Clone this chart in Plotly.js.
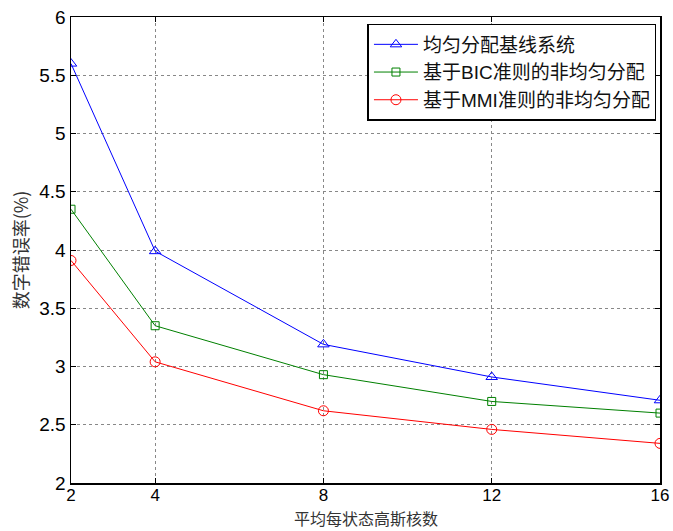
<!DOCTYPE html>
<html>
<head>
<meta charset="utf-8">
<script src="https://cdn.plot.ly/plotly-3.0.1.min.js"></script>
<style>html,body{margin:0;padding:0;background:#fff;}#chart{width:673px;height:531px;}</style>
</head>
<body>
<div id="chart"></div>
<script>
const xValues = [2, 4, 8, 12, 16];
const xTickLabels = ['2', '4', '8', '12', '16'];
const seriesNames = ['均匀分配基线系统', '基于BIC准则的非均匀分配', '基于MMI准则的非均匀分配'];
const baseline = [5.6, 3.99, 3.19, 2.91, 2.71];
const bicValues = [4.35, 3.35, 2.93, 2.70, 2.60];
const mmiValues = [3.91, 3.04, 2.62, 2.46, 2.34];
const yTicks = [2, 2.5, 3, 3.5, 4, 4.5, 5, 5.5, 6];
const xTitle = '平均每状态高斯核数';
const yTitle = '数字错误率(%)';

const FONT = 'Liberation Sans, Arial, Noto Sans CJK SC, sans-serif';
const CJK = 'Noto Sans CJK SC, sans-serif';
const colors = ['#0000ff', '#008000', '#ff0000'];
const symbols = ['triangle-up-open', 'square-open', 'circle-open'];
const sizes = [10, 8, 10];
const data = [baseline, bicValues, mmiValues].map((ys, i) => ({
  x: xValues, y: ys, name: seriesNames[i], type: 'scatter', mode: 'lines+markers',
  line: {color: colors[i], width: 1},
  marker: {symbol: symbols[i], size: sizes[i], color: colors[i], line: {color: colors[i], width: 1}}
}));

const plotH = 531 - 17 - 48;
const layout = {
  width: 673, height: 531,
  margin: {l: 71, r: 13, t: 17, b: 48},
  paper_bgcolor: '#fff', plot_bgcolor: '#fff',
  font: {family: FONT, size: 18, color: '#000'},
  showlegend: true,
  legend: {
    x: 0.994, y: 0.985, xanchor: 'right', yanchor: 'top',
    bordercolor: '#000', borderwidth: 1.5, bgcolor: '#fff',
    font: {family: FONT, size: 19, color: '#111'},
    tracegroupgap: 0, itemwidth: 44
  },
  xaxis: {
    range: [2, 16], tickvals: xValues, ticktext: xTickLabels,
    showgrid: true, gridcolor: '#888', griddash: 'dot', gridwidth: 1,
    zeroline: false, showline: true, linecolor: '#000', linewidth: 1.5, mirror: 'ticks',
    ticks: 'inside', ticklen: 5, tickcolor: '#000', ticklabelstandoff: -4,
    tickfont: {family: FONT, size: 17}
  },
  yaxis: {
    range: [2, 6], tickvals: yTicks,
    showgrid: true, gridcolor: '#888', griddash: 'dot', gridwidth: 1,
    zeroline: false, showline: true, linecolor: '#000', linewidth: 1.5, mirror: 'ticks',
    ticks: 'inside', ticklen: 5, tickcolor: '#000',
    tickfont: {family: FONT, size: 19},
    title: {text: yTitle, font: {family: CJK, size: 18, color: '#333'}, standoff: 6}
  },
  annotations: [{
    text: xTitle, xref: 'paper', yref: 'paper', x: 0.5, y: -48 / plotH,
    xanchor: 'center', yanchor: 'bottom', showarrow: false, borderpad: 0,
    font: {family: CJK, size: 16, color: '#333'}
  }]
};
Plotly.newPlot('chart', data, layout, {displayModeBar: false, staticPlot: true});
</script>
</body>
</html>
